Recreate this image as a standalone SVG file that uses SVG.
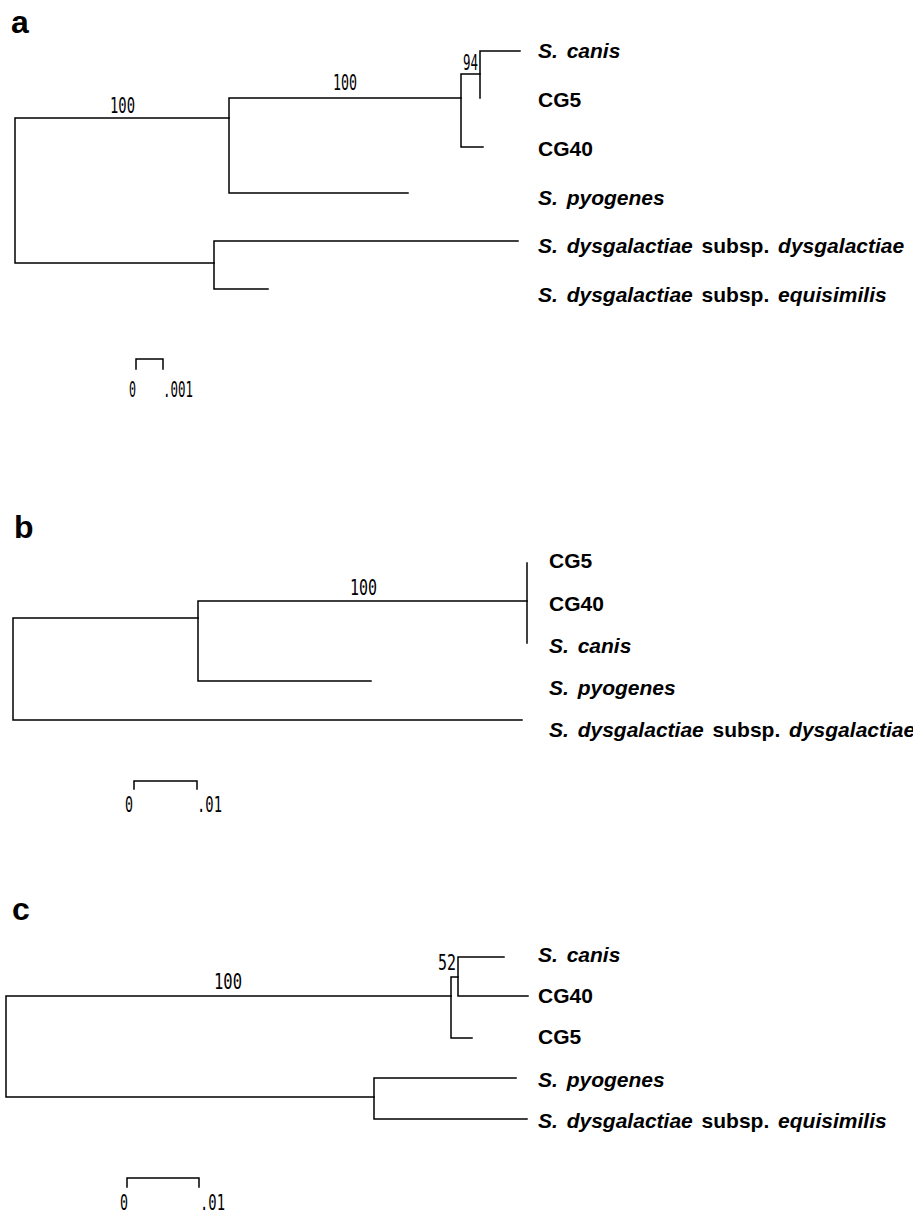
<svg xmlns="http://www.w3.org/2000/svg" width="913" height="1213" viewBox="0 0 913 1213">
<style>
.bg{fill:#fff}
.br{fill:none;stroke:#000;stroke-width:1.5;stroke-linecap:square}
.lab{font-family:"Liberation Sans",Arial,sans-serif;font-weight:bold;font-size:21px;word-spacing:3px;fill:#000}
.it{font-style:italic}
.pl{font-family:"Liberation Sans",Arial,sans-serif;font-weight:bold;font-size:32px;fill:#000}
.num{font-family:"DejaVu Sans Mono","Liberation Mono",monospace;font-size:21px;fill:#000}
.sc{font-family:"DejaVu Sans Mono","Liberation Mono",monospace;font-size:21px;fill:#000}
</style>
<rect class="bg" x="0" y="0" width="913" height="1213"/>

<!-- Panel a -->
<g id="panel-a">
  <text class="pl" x="11" y="33">a</text>
  <g id="connectors-a">
    <path class="br" d="M229,118 H15 V263 H214"/>
    <path class="br" d="M461,98 H229 V193 H408"/>
    <path class="br" d="M480,74 H461 V147 H483"/>
    <path class="br" d="M520,51 H480 V98"/>
    <path class="br" d="M518,241 H214 V289 H268"/>
  </g>
  <g id="boot-a">
    <text class="num" x="110" y="113" textLength="25" lengthAdjust="spacingAndGlyphs">100</text>
    <text class="num" x="333" y="90" textLength="24" lengthAdjust="spacingAndGlyphs">100</text>
    <text class="num" x="463" y="70" textLength="15" lengthAdjust="spacingAndGlyphs">94</text>
  </g>
  <g id="a-canis"><text class="lab" x="538" y="58"><tspan class="it">S. canis</tspan></text></g>
  <g id="a-cg5"><text class="lab" x="538" y="107">CG5</text></g>
  <g id="a-cg40"><text class="lab" x="538" y="156">CG40</text></g>
  <g id="a-pyogenes"><text class="lab" x="538" y="205"><tspan class="it">S. pyogenes</tspan></text></g>
  <g id="a-dysg"><text class="lab" x="538" y="253"><tspan class="it">S. dysgalactiae</tspan> subsp. <tspan class="it">dysgalactiae</tspan></text></g>
  <g id="a-equi"><text class="lab" x="538" y="302"><tspan class="it">S. dysgalactiae</tspan> subsp. <tspan class="it">equisimilis</tspan></text></g>
  <g id="scale-a">
    <path class="br" d="M136,369 V359 H163 V369"/>
    <text class="sc" x="129" y="397" textLength="7" lengthAdjust="spacingAndGlyphs">0</text>
    <text class="sc" x="163" y="397" textLength="30" lengthAdjust="spacingAndGlyphs">.001</text>
  </g>
</g>

<!-- Panel b -->
<g id="panel-b">
  <text class="pl" x="14" y="538">b</text>
  <g id="connectors-b">
    <path class="br" d="M198,618 H13 V720 H522"/>
    <path class="br" d="M527,601 H198 V681 H371"/>
    <path class="br" d="M527,563 V643"/>
  </g>
  <g id="boot-b">
    <text class="num" x="350" y="595" textLength="27" lengthAdjust="spacingAndGlyphs">100</text>
  </g>
  <g id="b-cg5"><text class="lab" x="549" y="568">CG5</text></g>
  <g id="b-cg40"><text class="lab" x="549" y="611">CG40</text></g>
  <g id="b-canis"><text class="lab" x="549" y="653"><tspan class="it">S. canis</tspan></text></g>
  <g id="b-pyogenes"><text class="lab" x="549" y="695"><tspan class="it">S. pyogenes</tspan></text></g>
  <g id="b-dysg"><text class="lab" x="549" y="737"><tspan class="it">S. dysgalactiae</tspan> subsp. <tspan class="it">dysgalactiae</tspan></text></g>
  <g id="scale-b">
    <path class="br" d="M134,789 V781 H197 V789"/>
    <text class="sc" x="125" y="812" textLength="8" lengthAdjust="spacingAndGlyphs">0</text>
    <text class="sc" x="197" y="812" textLength="25" lengthAdjust="spacingAndGlyphs">.01</text>
  </g>
</g>

<!-- Panel c -->
<g id="panel-c">
  <text class="pl" x="12" y="920">c</text>
  <g id="connectors-c">
    <path class="br" d="M451,996 H6 V1097 H374"/>
    <path class="br" d="M458,977 H451 V1038 H472"/>
    <path class="br" d="M504,957 H458 V996 H528"/>
    <path class="br" d="M516,1078 H374 V1119 H527"/>
  </g>
  <g id="boot-c">
    <text class="num" x="214" y="989" textLength="28" lengthAdjust="spacingAndGlyphs">100</text>
    <text class="num" x="438" y="970" textLength="18" lengthAdjust="spacingAndGlyphs">52</text>
  </g>
  <g id="c-canis"><text class="lab" x="538" y="962"><tspan class="it">S. canis</tspan></text></g>
  <g id="c-cg40"><text class="lab" x="538" y="1003">CG40</text></g>
  <g id="c-cg5"><text class="lab" x="538" y="1044">CG5</text></g>
  <g id="c-pyogenes"><text class="lab" x="538" y="1087"><tspan class="it">S. pyogenes</tspan></text></g>
  <g id="c-equi"><text class="lab" x="538" y="1128"><tspan class="it">S. dysgalactiae</tspan> subsp. <tspan class="it">equisimilis</tspan></text></g>
  <g id="scale-c">
    <path class="br" d="M127,1187 V1178 H199 V1187"/>
    <text class="sc" x="120" y="1210" textLength="8" lengthAdjust="spacingAndGlyphs">0</text>
    <text class="sc" x="200" y="1210" textLength="25" lengthAdjust="spacingAndGlyphs">.01</text>
  </g>
</g>
</svg>
